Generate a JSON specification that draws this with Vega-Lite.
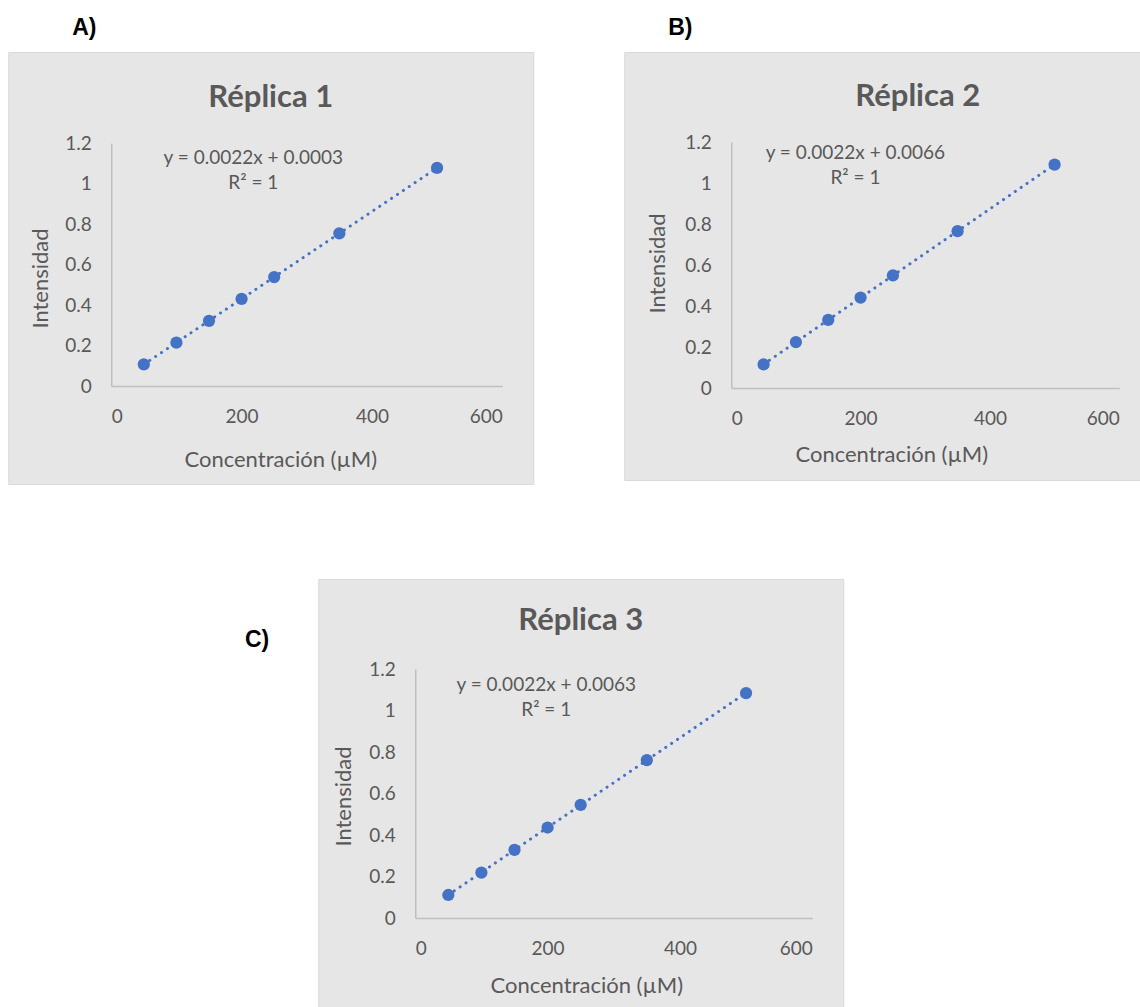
{
  "$schema": "https://vega.github.io/schema/vega-lite/v6.json",
  "padding": {"left": 7, "top": 16, "right": 0, "bottom": 0},
  "background": "white",
  "title": {"text": "C)", "orient": "top", "anchor": "start", "frame": "group", "dx": 237, "offset": -653, "baseline": "alphabetic", "font": "Liberation Sans", "fontSize": 23, "fontWeight": "bold", "color": "#000000"},
  "config": {
    "view": {"fill": "#e7e6e6", "stroke": "#d9d9d9", "strokeWidth": 1},
    "axis": {
      "grid": false, "ticks": false, "tickSize": 0,
      "domainColor": "#bfbfbf", "domainWidth": 1.5,
      "labelColor": "#595959", "labelFont": "Lato", "labelFontSize": 19,
      "titleColor": "#595959", "titleFont": "Lato", "titleFontSize": 22, "titleFontWeight": "normal",
      "titleAlign": "center", "titleBaseline": "middle"
    }
  },
  "center": true,
  "spacing": 93,
  "vconcat": [
    {
      "spacing": 89,
      "hconcat": [
        {
          "title": {"text": "A)", "anchor": "start", "frame": "group", "dx": 64, "offset": -6, "baseline": "alphabetic", "font": "Liberation Sans", "fontSize": 23, "fontWeight": "bold", "color": "#000000"},
          "vconcat": [
            {
              "width": 525, "height": 432,
              "title": {"text": "Réplica 1", "anchor": "middle", "frame": "group", "offset": -77, "baseline": "middle", "font": "Lato", "fontSize": 31, "fontWeight": "bold", "color": "#595959"},
              "data": {"values": [
                {"x": 50, "y": 0.107}, {"x": 100, "y": 0.214}, {"x": 150, "y": 0.322}, {"x": 200, "y": 0.430},
                {"x": 250, "y": 0.538}, {"x": 350, "y": 0.754}, {"x": 500, "y": 1.077}
              ]},
              "layer": [
                {
                  "transform": [{"regression": "y", "on": "x"}],
                  "mark": {"type": "line", "color": "#4472C4", "strokeWidth": 3, "strokeDash": [0.1, 7], "strokeCap": "round"},
                  "encoding": {"x": {"field": "x", "type": "quantitative"}, "y": {"field": "y", "type": "quantitative"}}
                },
                {
                  "mark": {"type": "circle", "size": 150, "color": "#4472C4", "opacity": 1},
                  "encoding": {
                    "x": {"field": "x", "type": "quantitative",
                      "scale": {"domain": [0, 600], "range": [103, 494], "nice": false, "zero": false},
                      "axis": {"values": [0, 200, 400, 600], "offset": -98, "labelPadding": 21, "title": "Concentración (µM)", "titleX": 272, "titleY": 73}},
                    "y": {"field": "y", "type": "quantitative",
                      "scale": {"domain": [0, 1.2], "range": [334, 91], "nice": false, "zero": false},
                      "axis": {"values": [0, 0.2, 0.4, 0.6, 0.8, 1, 1.2], "format": "~g", "offset": -103, "labelPadding": 20, "title": "Intensidad", "titleX": -71, "titleY": 226}}
                  }
                },
                {
                  "data": {"values": [{}]},
                  "mark": {"type": "text", "align": "center", "baseline": "middle", "lineHeight": 25, "font": "Lato", "fontSize": 19, "color": "#595959"},
                  "encoding": {"x": {"datum": 218}, "y": {"datum": 1.126}, "text": {"value": ["y = 0.0022x + 0.0003", "R² = 1"]}}
                }
              ]
            }
          ]
        },
        {
          "title": {"text": "B)", "anchor": "start", "frame": "group", "dx": 44, "offset": -6, "baseline": "alphabetic", "font": "Liberation Sans", "fontSize": 23, "fontWeight": "bold", "color": "#000000"},
          "vconcat": [
            {
              "width": 529, "height": 428,
              "title": {"text": "Réplica 2", "anchor": "middle", "frame": "group", "dx": 29, "offset": -76, "baseline": "middle", "font": "Lato", "fontSize": 31, "fontWeight": "bold", "color": "#595959"},
              "data": {"values": [
                {"x": 50, "y": 0.115}, {"x": 100, "y": 0.224}, {"x": 150, "y": 0.332}, {"x": 200, "y": 0.441},
                {"x": 250, "y": 0.549}, {"x": 350, "y": 0.765}, {"x": 500, "y": 1.090}
              ]},
              "layer": [
                {
                  "transform": [{"regression": "y", "on": "x"}],
                  "mark": {"type": "line", "color": "#4472C4", "strokeWidth": 3, "strokeDash": [0.1, 7], "strokeCap": "round"},
                  "encoding": {"x": {"field": "x", "type": "quantitative"}, "y": {"field": "y", "type": "quantitative"}}
                },
                {
                  "mark": {"type": "circle", "size": 150, "color": "#4472C4", "opacity": 1},
                  "encoding": {
                    "x": {"field": "x", "type": "quantitative",
                      "scale": {"domain": [0, 600], "range": [107, 495], "nice": false, "zero": false},
                      "axis": {"values": [0, 200, 400, 600], "offset": -92, "labelPadding": 21, "title": "Concentración (µM)", "titleX": 267, "titleY": 66}},
                    "y": {"field": "y", "type": "quantitative",
                      "scale": {"domain": [0, 1.2], "range": [336, 90], "nice": false, "zero": false},
                      "axis": {"values": [0, 0.2, 0.4, 0.6, 0.8, 1, 1.2], "format": "~g", "offset": -107, "labelPadding": 20, "title": "Intensidad", "titleX": -74, "titleY": 211}}
                  }
                },
                {
                  "data": {"values": [{}]},
                  "mark": {"type": "text", "align": "center", "baseline": "middle", "lineHeight": 25, "font": "Lato", "fontSize": 19, "color": "#595959"},
                  "encoding": {"x": {"datum": 192}, "y": {"datum": 1.145}, "text": {"value": ["y = 0.0022x + 0.0066", "R² = 1"]}}
                }
              ]
            }
          ]
        }
      ]
    },
    {
      "width": 525, "height": 432,
      "title": {"text": "Réplica 3", "anchor": "middle", "frame": "group", "offset": -73, "baseline": "middle", "font": "Lato", "fontSize": 31, "fontWeight": "bold", "color": "#595959"},
      "data": {"values": [
        {"x": 50, "y": 0.111}, {"x": 100, "y": 0.219}, {"x": 150, "y": 0.328}, {"x": 200, "y": 0.436},
        {"x": 250, "y": 0.545}, {"x": 350, "y": 0.761}, {"x": 500, "y": 1.084}
      ]},
      "layer": [
        {
          "transform": [{"regression": "y", "on": "x"}],
          "mark": {"type": "line", "color": "#4472C4", "strokeWidth": 3, "strokeDash": [0.1, 7], "strokeCap": "round"},
          "encoding": {"x": {"field": "x", "type": "quantitative"}, "y": {"field": "y", "type": "quantitative"}}
        },
        {
          "mark": {"type": "circle", "size": 150, "color": "#4472C4", "opacity": 1},
          "encoding": {
            "x": {"field": "x", "type": "quantitative",
              "scale": {"domain": [0, 600], "range": [97, 494], "nice": false, "zero": false},
              "axis": {"values": [0, 200, 400, 600], "offset": -93, "labelPadding": 21, "title": "Concentración (µM)", "titleX": 268, "titleY": 67}},
            "y": {"field": "y", "type": "quantitative",
              "scale": {"domain": [0, 1.2], "range": [339, 90], "nice": false, "zero": false},
              "axis": {"values": [0, 0.2, 0.4, 0.6, 0.8, 1, 1.2], "format": "~g", "offset": -97, "labelPadding": 20, "title": "Intensidad", "titleX": -72, "titleY": 217}}
          }
        },
        {
          "data": {"values": [{}]},
          "mark": {"type": "text", "align": "center", "baseline": "middle", "lineHeight": 25, "font": "Lato", "fontSize": 19, "color": "#595959"},
          "encoding": {"x": {"datum": 198}, "y": {"datum": 1.123}, "text": {"value": ["y = 0.0022x + 0.0063", "R² = 1"]}}
        }
      ]
    }
  ]
}
